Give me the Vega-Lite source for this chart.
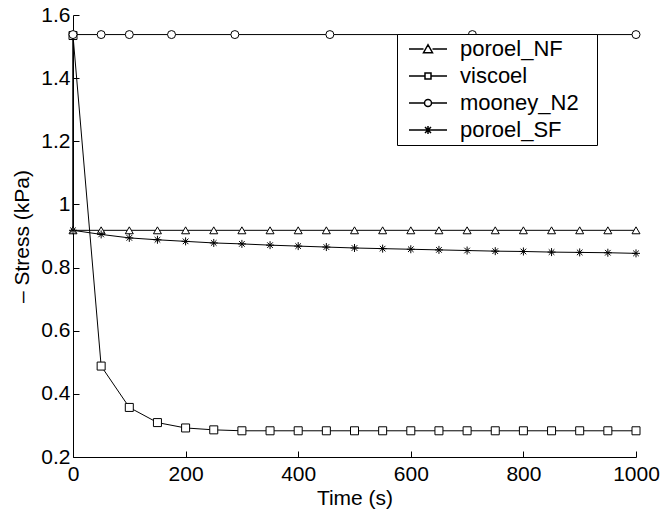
{
  "$schema": "https://vega.github.io/schema/vega-lite/v6.json",
  "width": 563,
  "height": 442,
  "autosize": {"type": "none"},
  "padding": {"left": 73, "top": 15, "right": 26, "bottom": 57},
  "background": "white",
  "config": {
    "view": {"stroke": null},
    "font": "Liberation Sans",
    "axis": {
      "domainColor": "black", "tickColor": "black", "labelColor": "black", "titleColor": "black",
      "labelFont": "Liberation Sans", "titleFont": "Liberation Sans",
      "labelFontSize": 21, "titleFontSize": 21, "titleFontWeight": "normal",
      "tickSize": -6, "grid": false, "domainWidth": 1, "tickWidth": 1
    }
  },
  "data": {
    "values": [
      {"series": "poroel_NF", "t": 0, "v": 1.535, "marked": false},
      {"series": "poroel_NF", "t": 0, "v": 0.918, "marked": true},
      {"series": "poroel_NF", "t": 50, "v": 0.918, "marked": true},
      {"series": "poroel_NF", "t": 100, "v": 0.918, "marked": true},
      {"series": "poroel_NF", "t": 150, "v": 0.918, "marked": true},
      {"series": "poroel_NF", "t": 200, "v": 0.918, "marked": true},
      {"series": "poroel_NF", "t": 250, "v": 0.918, "marked": true},
      {"series": "poroel_NF", "t": 300, "v": 0.918, "marked": true},
      {"series": "poroel_NF", "t": 350, "v": 0.918, "marked": true},
      {"series": "poroel_NF", "t": 400, "v": 0.918, "marked": true},
      {"series": "poroel_NF", "t": 450, "v": 0.918, "marked": true},
      {"series": "poroel_NF", "t": 500, "v": 0.918, "marked": true},
      {"series": "poroel_NF", "t": 550, "v": 0.918, "marked": true},
      {"series": "poroel_NF", "t": 600, "v": 0.918, "marked": true},
      {"series": "poroel_NF", "t": 650, "v": 0.918, "marked": true},
      {"series": "poroel_NF", "t": 700, "v": 0.918, "marked": true},
      {"series": "poroel_NF", "t": 750, "v": 0.918, "marked": true},
      {"series": "poroel_NF", "t": 800, "v": 0.918, "marked": true},
      {"series": "poroel_NF", "t": 850, "v": 0.918, "marked": true},
      {"series": "poroel_NF", "t": 900, "v": 0.918, "marked": true},
      {"series": "poroel_NF", "t": 950, "v": 0.918, "marked": true},
      {"series": "poroel_NF", "t": 1000, "v": 0.918, "marked": true},
      {"series": "viscoel", "t": 0, "v": 1.535, "marked": true},
      {"series": "viscoel", "t": 50, "v": 0.488, "marked": true},
      {"series": "viscoel", "t": 100, "v": 0.357, "marked": true},
      {"series": "viscoel", "t": 150, "v": 0.309, "marked": true},
      {"series": "viscoel", "t": 200, "v": 0.292, "marked": true},
      {"series": "viscoel", "t": 250, "v": 0.286, "marked": true},
      {"series": "viscoel", "t": 300, "v": 0.283, "marked": true},
      {"series": "viscoel", "t": 350, "v": 0.283, "marked": true},
      {"series": "viscoel", "t": 400, "v": 0.283, "marked": true},
      {"series": "viscoel", "t": 450, "v": 0.283, "marked": true},
      {"series": "viscoel", "t": 500, "v": 0.283, "marked": true},
      {"series": "viscoel", "t": 550, "v": 0.283, "marked": true},
      {"series": "viscoel", "t": 600, "v": 0.283, "marked": true},
      {"series": "viscoel", "t": 650, "v": 0.283, "marked": true},
      {"series": "viscoel", "t": 700, "v": 0.283, "marked": true},
      {"series": "viscoel", "t": 750, "v": 0.283, "marked": true},
      {"series": "viscoel", "t": 800, "v": 0.283, "marked": true},
      {"series": "viscoel", "t": 850, "v": 0.283, "marked": true},
      {"series": "viscoel", "t": 900, "v": 0.283, "marked": true},
      {"series": "viscoel", "t": 950, "v": 0.283, "marked": true},
      {"series": "viscoel", "t": 1000, "v": 0.283, "marked": true},
      {"series": "mooney_N2", "t": 0, "v": 1.538, "marked": true},
      {"series": "mooney_N2", "t": 50, "v": 1.538, "marked": true},
      {"series": "mooney_N2", "t": 100, "v": 1.538, "marked": true},
      {"series": "mooney_N2", "t": 175, "v": 1.538, "marked": true},
      {"series": "mooney_N2", "t": 287.5, "v": 1.538, "marked": true},
      {"series": "mooney_N2", "t": 456.25, "v": 1.538, "marked": true},
      {"series": "mooney_N2", "t": 709.375, "v": 1.538, "marked": true},
      {"series": "mooney_N2", "t": 1000, "v": 1.538, "marked": true},
      {"series": "poroel_SF", "t": 0, "v": 1.535, "marked": false},
      {"series": "poroel_SF", "t": 0, "v": 0.918, "marked": true},
      {"series": "poroel_SF", "t": 50, "v": 0.905, "marked": true},
      {"series": "poroel_SF", "t": 100, "v": 0.894, "marked": true},
      {"series": "poroel_SF", "t": 150, "v": 0.888, "marked": true},
      {"series": "poroel_SF", "t": 200, "v": 0.883, "marked": true},
      {"series": "poroel_SF", "t": 250, "v": 0.878, "marked": true},
      {"series": "poroel_SF", "t": 300, "v": 0.875, "marked": true},
      {"series": "poroel_SF", "t": 350, "v": 0.871, "marked": true},
      {"series": "poroel_SF", "t": 400, "v": 0.868, "marked": true},
      {"series": "poroel_SF", "t": 450, "v": 0.865, "marked": true},
      {"series": "poroel_SF", "t": 500, "v": 0.862, "marked": true},
      {"series": "poroel_SF", "t": 550, "v": 0.860, "marked": true},
      {"series": "poroel_SF", "t": 600, "v": 0.858, "marked": true},
      {"series": "poroel_SF", "t": 650, "v": 0.856, "marked": true},
      {"series": "poroel_SF", "t": 700, "v": 0.854, "marked": true},
      {"series": "poroel_SF", "t": 750, "v": 0.852, "marked": true},
      {"series": "poroel_SF", "t": 800, "v": 0.851, "marked": true},
      {"series": "poroel_SF", "t": 850, "v": 0.849, "marked": true},
      {"series": "poroel_SF", "t": 900, "v": 0.848, "marked": true},
      {"series": "poroel_SF", "t": 950, "v": 0.847, "marked": true},
      {"series": "poroel_SF", "t": 1000, "v": 0.845, "marked": true}
    ]
  },
  "encoding": {
    "x": {
      "field": "t", "type": "quantitative",
      "scale": {"domain": [0, 1000], "nice": false, "zero": false},
      "axis": {"values": [0, 200, 400, 600, 800, 1000], "format": "d", "labelPadding": 12, "title": "Time (s)", "titlePadding": 3, "labelFlush": false}
    },
    "y": {
      "field": "v", "type": "quantitative",
      "scale": {"domain": [0.2, 1.6], "nice": false, "zero": false},
      "axis": {"values": [0.2, 0.4, 0.6, 0.8, 1, 1.2, 1.4, 1.6], "labelExpr": "format(datum.value, '~g')", "labelPadding": 9, "title": "– Stress (kPa)", "titlePadding": 8, "labelFlush": false}
    }
  },
  "layer": [
    {
      "mark": {"type": "line", "color": "black", "strokeWidth": 1},
      "encoding": {"detail": {"field": "series"}}
    },
    {
      "transform": [{"filter": "datum.marked"}],
      "mark": {"type": "point", "filled": true, "fill": "white", "stroke": "black", "strokeWidth": 1, "size": 64, "opacity": 1},
      "encoding": {
        "shape": {
          "field": "series", "type": "nominal",
          "scale": {
            "domain": ["poroel_NF", "viscoel", "mooney_N2", "poroel_SF"],
            "range": ["triangle-up", "square", "circle", "M-1,0L1,0M0,-1L0,1M-0.7,-0.7L0.7,0.7M-0.7,0.7L0.7,-0.7"]
          },
          "legend": null
        }
      }
    },
    {
      "transform": [{"filter": "datum.t == 1000"}],
      "mark": {"type": "point", "filled": true, "fill": "white", "stroke": "black", "strokeWidth": 1, "size": 100, "opacity": 0},
      "encoding": {
        "shape": {
          "field": "series", "type": "nominal",
          "scale": {
            "domain": ["poroel_NF", "viscoel", "mooney_N2", "poroel_SF"],
            "range": [
              "M-2.2,0M-0.6,0L2.3,0M4.1,0L7,0M2.3,0.75L4.1,0.75L3.2,-0.85ZM35.6,0",
              "M-2.2,0M-0.6,0L2.6,0M3.8,0L7,0M2.6,-0.6L3.8,-0.6L3.8,0.6L2.6,0.6ZM35.6,0",
              "M-2.2,0M-0.6,0L2.5,0M3.9,0L7,0M3.9,0A0.7,0.7,0,1,1,2.5,0A0.7,0.7,0,1,1,3.9,0ZM35.6,0",
              "M-2.2,0M-0.6,0L7,0M3.2,-0.8L3.2,0.8M2.6,-0.6L3.8,0.6M2.6,0.6L3.8,-0.6M35.6,0"
            ]
          },
          "legend": {
            "title": null, "orient": "none", "legendX": 324, "legendY": 19,
            "padding": 4, "strokeColor": "black", "fillColor": "white",
            "labelFont": "Liberation Sans", "labelFontSize": 22, "labelColor": "black", "labelOffset": 37, "labelLimit": 400,
            "symbolSize": 100, "symbolOpacity": 1, "rowPadding": 5
          }
        }
      }
    }
  ],
  "resolve": {"scale": {"shape": "independent"}, "legend": {"shape": "independent"}}
}
